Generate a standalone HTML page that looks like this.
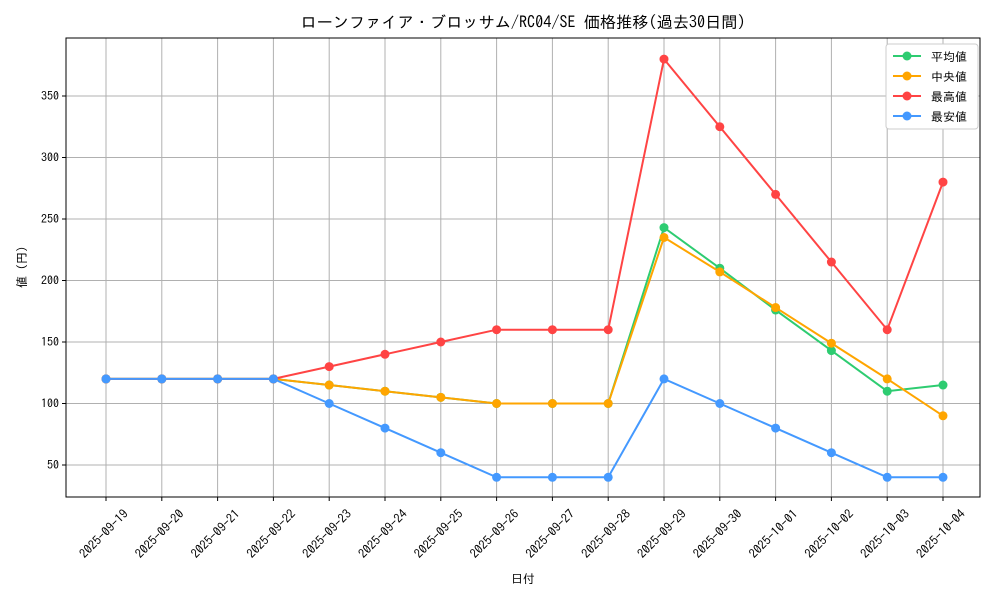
<!DOCTYPE html>
<html><head><meta charset="utf-8"><style>
body{margin:0;background:#fff;}
svg text{font-family:"IPAGothic","Noto Sans CJK JP",sans-serif;fill:#000;}
</style></head><body>
<svg id="chart" width="1000" height="600" xmlns="http://www.w3.org/2000/svg">
<rect width="1000" height="600" fill="#fff"/>
<g id="grid"></g>
<g id="series"></g>
<rect x="66" y="38" width="914" height="459" fill="none" stroke="#000" stroke-width="1"/>
<g id="axes"></g>
<text x="523" y="28" font-size="16.2" text-anchor="middle">ローンファイア・ブロッサム/RC04/SE 価格推移(過去30日間)</text>
<text x="523" y="583" font-size="12" text-anchor="middle">日付</text>
<text x="26" y="267" font-size="12" text-anchor="middle" transform="rotate(-90 26 267)">値 (円)</text>
<g id="legend"></g>
</svg>
<script>
const categories=["2025-09-19","2025-09-20","2025-09-21","2025-09-22","2025-09-23","2025-09-24","2025-09-25","2025-09-26","2025-09-27","2025-09-28","2025-09-29","2025-09-30","2025-10-01","2025-10-02","2025-10-03","2025-10-04"];
const avgValues=[120,120,120,120,115,110,105,100,100,100,243,210,176,143,110,115];
const medianValues=[120,120,120,120,115,110,105,100,100,100,235,207,178,149,120,90];
const maxValues=[120,120,120,120,130,140,150,160,160,160,380,325,270,215,160,280];
const minValues=[120,120,120,120,100,80,60,40,40,40,120,100,80,60,40,40];
const yTicks=[50,100,150,200,250,300,350];
const seriesNames=["平均値","中央値","最高値","最安値"];
const seriesColors=["#2ecc71","#ffa500","#ff4444","#4499ff"];
const NS="http://www.w3.org/2000/svg";
function xS(i){return 106+i*(943-106)/(categories.length-1);}
function yS(v){return 465-(v-50)*1.23;}
function mk(t,a,p){const e=document.createElementNS(NS,t);for(const k in a)e.setAttribute(k,a[k]);p.appendChild(e);return e;}
const grid=document.getElementById('grid'),axes=document.getElementById('axes'),ser=document.getElementById('series'),leg=document.getElementById('legend');
categories.forEach((c,i)=>{
 const x=xS(i);
 const g=mk('line',{x1:x,x2:x,y1:38,y2:497,stroke:'#b0b0b0','stroke-width':1},grid);
 
 
 mk('line',{x1:x,x2:x,y1:497,y2:501,stroke:'#000'},axes);
 const t=mk('text',{x:x-2,y:538,'font-size':12.5,'text-anchor':'middle',transform:`rotate(-45 ${x-2} 534)`},axes);
 t.textContent=c;
 
 
});
yTicks.forEach(v=>{
 const y=yS(v);
 const g=mk('line',{x1:66,x2:980,y1:y,y2:y,stroke:'#b0b0b0','stroke-width':1},grid);
 
 
 mk('line',{x1:62,x2:66,y1:y,y2:y,stroke:'#000'},axes);
 const t=mk('text',{x:59,y:y+4,'font-size':12,'text-anchor':'end'},axes);
 t.textContent=v;
 
 
});
[avgValues,medianValues,maxValues,minValues].forEach((vals,s)=>{
 const col=seriesColors[s];
 const pl=mk('polyline',{points:vals.map((v,i)=>xS(i)+','+yS(v)).join(' '),fill:'none',stroke:col,'stroke-width':2},ser);
 
 
 vals.forEach((v,i)=>{
  const c=mk('circle',{cx:xS(i),cy:yS(v),r:4.5,fill:col},ser);
  
  
 });
});
const lb=mk('rect',{x:886,y:44,width:92,height:85,fill:'#fff',stroke:'#ccc',rx:3},leg);


seriesNames.forEach((n,s)=>{
 const y=56+s*20;
 const g=mk('g',{},leg);
 
 
 mk('line',{x1:893,x2:921,y1:y,y2:y,stroke:seriesColors[s],'stroke-width':2},g);
 mk('circle',{cx:907,cy:y,r:4.5,fill:seriesColors[s]},g);
 const t=mk('text',{x:931,y:y+5,'font-size':12},g);
 t.textContent=n;
});
</script>
</body></html>
